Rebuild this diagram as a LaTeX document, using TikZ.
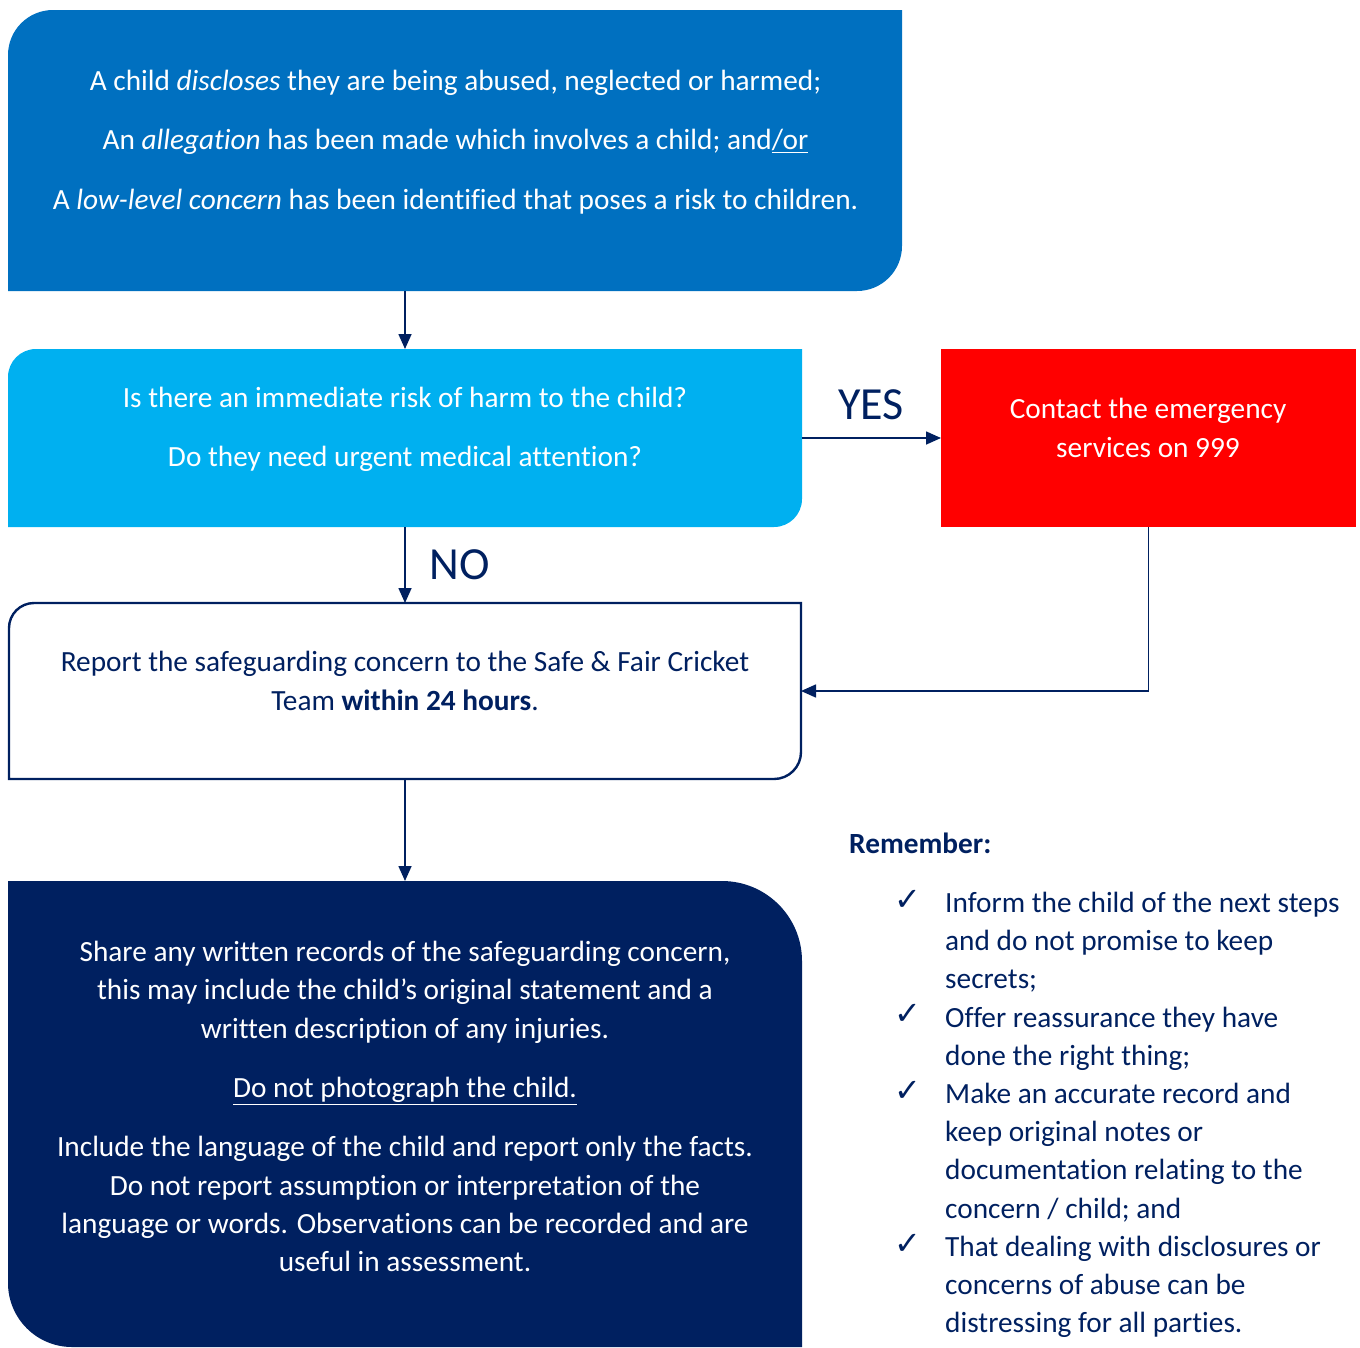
\documentclass[tikz,border=0pt]{standalone}
\usepackage{fontspec}
\setmainfont{Carlito}[Ligatures=NoCommon]
\newfontfamily\dejavu{DejaVu Sans}
\usetikzlibrary{arrows.meta}
\definecolor{cblue}{HTML}{0070C0}
\definecolor{clight}{HTML}{00B0F0}
\definecolor{cred}{HTML}{FF0000}
\definecolor{navy}{HTML}{002060}
\tikzset{
  boxn/.style={rectangle, inner sep=0pt, outer sep=0pt, draw=none},
  body/.style={inner sep=0pt, align=center, font=\fontsize{29.3}{#1}\selectfont},
  arr/.style={draw=navy, line width=1.6pt, -{Triangle[length=15pt,width=13pt]}},
  big/.style={inner sep=0pt, text=navy, font=\fontsize{46}{50}\selectfont},
  tick/.style={inner sep=0pt, text=navy, font=\dejavu\bfseries\fontsize{32}{34}\selectfont}
}
\begin{document}
\begin{tikzpicture}[x=1pt,y=-1pt]
\useasboundingbox (0,0) rectangle (1360,1347);
% shapes
\fill[cblue] (8,291) -- (8,55) arc[start angle=180,end angle=270,radius=45] -- (902,10) -- (902,246) arc[start angle=0,end angle=90,radius=45] -- cycle;
\fill[clight] (8,527) -- (8,377) arc[start angle=180,end angle=270,radius=28] -- (802,349) -- (802,499) arc[start angle=0,end angle=90,radius=28] -- cycle;
\fill[cred] (941,349) rectangle (1356,527);
\draw[navy, line width=2.4pt, fill=white] (9,779) -- (9,628) arc[start angle=180,end angle=270,radius=25] -- (801,603) -- (801,752) arc[start angle=0,end angle=90,radius=27] -- cycle;
\fill[navy] (8,881) -- (722,881) arc[start angle=270,end angle=360,radius=80] -- (802,1347) -- (72,1347) arc[start angle=90,end angle=180,radius=64] -- cycle;
% box nodes
\node[boxn, minimum width=894pt, minimum height=281pt] (b1) at (455,150.5) {};
\node[boxn, minimum width=794pt, minimum height=178pt] (b2) at (405,438) {};
\node[boxn, minimum width=415pt, minimum height=178pt] (red) at (1148.5,438) {};
\node[boxn, minimum width=792pt, minimum height=176pt] (b3) at (405,691) {};
\node[boxn, minimum width=794pt, minimum height=466pt] (b4) at (405,1114) {};
% texts
\node[body=59.5, text=white] (t1) at (455.5,141.8) {A child \textit{discloses} they are being abused, neglected or harmed;\\
An \textit{allegation} has been made which involves a child; and\underline{/or}\\
A \textit{low-level concern} has been identified that poses a risk to children.};
\node[body=59, text=white] (t2) at (405,429.8) {Is there an immediate risk of harm to the child?\\Do they need urgent medical attention?};
\node[body=39, text=white] (t3) at (1148,428) {Contact the emergency\\services on 999};
\node[body=39, text=navy] (t4) at (405,681) {Report the safeguarding concern to the Safe \& Fair Cricket\\Team \textbf{within 24 hours}.};
\node[body=38.3, text=white] (t5) at (405,1106.5) {Share any written records of the safeguarding concern,\\
this may include the child’s original statement and a\\
written description of any injuries.\\[21pt]
\underline{Do not photograph the child.}\\[21pt]
Include the language of the child and report only the facts.\\
Do not report assumption or interpretation of the\\
language or words. Observations can be recorded and are\\
useful in assessment.};
\node[big] (yes) at (871,405) {YES};
\node[big] (no) at (460,565) {NO};
\node[inner sep=0pt, anchor=west, text=navy, font=\fontsize{29.3}{35}\selectfont\bfseries] (rem) at (849,843) {Remember:};
\node[body=38.2, align=left, anchor=west, text=navy] (list) at (945,1115) {Inform the child of the next steps\\
and do not promise to keep\\
secrets;\\
Offer reassurance they have\\
done the right thing;\\
Make an accurate record and\\
keep original notes or\\
documentation relating to the\\
concern / child; and\\
That dealing with disclosures or\\
concerns of abuse can be\\
distressing for all parties.};
\node[tick] (k1) at (908,900) {✓};
\node[tick] (k2) at (908,1014) {✓};
\node[tick] (k3) at (908,1091) {✓};
\node[tick] (k4) at (908,1244) {✓};
% connectors
\draw[arr] (b1.south -| b2.north) -- (b2.north);
\draw[arr] (b2.east) -- (red.west);
\draw[arr] (b2.south) -- (b3.north);
\draw[arr] (red.south) |- (b3.east);
\draw[arr] (b3.south) -- (b4.north);
\end{tikzpicture}
\end{document}
